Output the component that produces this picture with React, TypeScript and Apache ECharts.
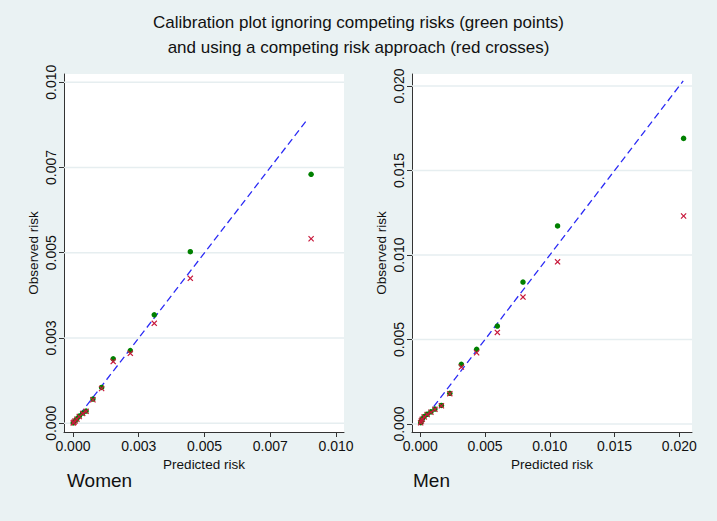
import React, { useEffect, useRef } from "react";
import * as echarts from "echarts";

// Women
const womenPred = [0.00905, 0.00446, 0.00309, 0.00218, 0.00153, 0.00109, 0.00076, 0.0005, 0.00037, 0.00024, 0.00015, 0.00008, 0.00004, 0.00001];
const womenObs = [0.0073, 0.00503, 0.00318, 0.00213, 0.00189, 0.00105, 0.00071, 0.00036, 0.0003, 0.00021, 0.00013, 0.00007, 0.00004, 0.00001];
const womenObsCR = [0.00541, 0.00425, 0.00293, 0.00205, 0.00181, 0.00102, 0.00069, 0.00035, 0.00029, 0.0002, 0.00012, 0.00007, 0.00003, 0.00001];
const womenDiag = [0, 0.0089];
const womenTicks = [0, 0.0025, 0.005, 0.0075, 0.01];
const womenTickLabels = ["0.000", "0.003", "0.005", "0.007", "0.010"];

// Men
const menPred = [0.02033, 0.0106, 0.00793, 0.00595, 0.00435, 0.00317, 0.00228, 0.00163, 0.00113, 0.00082, 0.00053, 0.0003, 0.00015, 0.00008, 0.00003];
const menObs = [0.0169, 0.01172, 0.0084, 0.0058, 0.00442, 0.00353, 0.00182, 0.0011, 0.00089, 0.00072, 0.00058, 0.00044, 0.0003, 0.0002, 0.00008];
const menObsCR = [0.01231, 0.0096, 0.00751, 0.00542, 0.00422, 0.00337, 0.0018, 0.00108, 0.00087, 0.0007, 0.00056, 0.00042, 0.00028, 0.00018, 0.00007];
const menDiag = [0, 0.0203];
const menTicks = [0, 0.005, 0.01, 0.015, 0.02];
const menTickLabels = ["0.000", "0.005", "0.010", "0.015", "0.020"];

const titleLines = [
  "Calibration plot ignoring competing risks (green points)",
  "and using a competing risk approach (red crosses)",
];
const panelNames = ["Women", "Men"];

const BG = "#EAF2F3";
const GRIDLINE = "#E6EEF0";
const GREEN = "#008000";
const RED = "#C8193C";
const BLUE = "#2B2BF5";
const FONT = "'Liberation Sans', Arial, sans-serif";
const CROSS = "path://M0,1.4L1.4,0L5,3.6L8.6,0L10,1.4L6.4,5L10,8.6L8.6,10L5,6.4L1.4,10L0,8.6L3.6,5Z";

function labelFor(ticks: number[], labels: string[]) {
  return (v: number) => {
    let best = 0;
    for (let i = 1; i < ticks.length; i++) {
      if (Math.abs(ticks[i] - v) < Math.abs(ticks[best] - v)) best = i;
    }
    return labels[best];
  };
}

function axes(ticks: number[], labels: string[], xMin: number, xMax: number, yMin: number, yMax: number, idx: number) {
  const fmt = labelFor(ticks, labels);
  const common = {
    axisLine: { show: true, onZero: false, lineStyle: { color: "#333", width: 1 } },
    axisTick: { show: true, customValues: ticks, length: 5, lineStyle: { color: "#333", width: 1 } },
    splitLine: { show: false },
    nameTextStyle: { fontFamily: FONT, fontSize: 13.5, color: "#111" },
  };
  const x = {
    ...common,
    type: "value",
    gridIndex: idx,
    min: xMin,
    max: xMax,
    name: "Predicted risk",
    nameLocation: "middle",
    nameGap: 22,
    axisLabel: { customValues: ticks, formatter: fmt, fontFamily: FONT, fontSize: 14, color: "#111", margin: 7 },
  };
  const y = {
    ...common,
    type: "value",
    gridIndex: idx,
    min: yMin,
    max: yMax,
    name: "Observed risk",
    nameLocation: "middle",
    nameGap: 24,
    nameRotate: 90,
    axisLabel: { customValues: ticks, formatter: fmt, rotate: 90, fontFamily: FONT, fontSize: 14, color: "#111", margin: 6 },
  };
  return { x, y };
}

function panelSeries(idx: number, pred: number[], obs: number[], obsCR: number[], diag: number[], ticks: number[], xMin: number, xMax: number) {
  const gridLines = ticks.map((t) => ({
    type: "line",
    xAxisIndex: idx,
    yAxisIndex: idx,
    data: [[xMin, t], [xMax, t]],
    showSymbol: false,
    symbol: "none",
    silent: true,
    lineStyle: { color: GRIDLINE, width: 1.5, type: "solid" },
    z: 1,
  }));
  return [
    ...gridLines,
    {
      type: "line",
      xAxisIndex: idx,
      yAxisIndex: idx,
      data: diag.map((d) => [d, d]),
      showSymbol: false,
      symbol: "none",
      lineStyle: { color: BLUE, width: 1.3, type: [7, 4] },
      z: 2,
    },
    {
      type: "scatter",
      xAxisIndex: idx,
      yAxisIndex: idx,
      data: pred.map((p, i) => [p, obs[i]]),
      symbol: "circle",
      symbolSize: 5.5,
      itemStyle: { color: GREEN, opacity: 1 },
      z: 3,
    },
    {
      type: "scatter",
      xAxisIndex: idx,
      yAxisIndex: idx,
      data: pred.map((p, i) => [p, obsCR[i]]),
      symbol: CROSS,
      symbolSize: 6,
      itemStyle: { color: RED, opacity: 1 },
      z: 4,
    },
  ];
}

export default function App() {
  const ref = useRef<HTMLDivElement>(null);
  useEffect(() => {
    if (!ref.current) return;
    const chart = echarts.init(ref.current, undefined, { renderer: "svg" });
    const wx = [-0.00034, 0.0103];
    const mx = [-0.00064, 0.02098];
    const w = axes(womenTicks, womenTickLabels, wx[0], wx[1], -0.000255, 0.01024, 0);
    const m = axes(menTicks, menTickLabels, mx[0], mx[1], -0.00047, 0.02071, 1);
    chart.setOption({
      animation: false,
      backgroundColor: BG,
      title: [
        {
          text: titleLines.join("\n"),
          left: 358.5,
          top: 10,
          padding: 0,
          textAlign: "center",
          textStyle: { fontFamily: FONT, fontSize: 17, fontWeight: "normal", color: "#111", lineHeight: 25 },
        },
        {
          text: panelNames[0],
          left: 67,
          top: 471,
          padding: 0,
          textStyle: { fontFamily: FONT, fontSize: 19, fontWeight: "normal", color: "#111" },
        },
        {
          text: panelNames[1],
          left: 413,
          top: 471,
          padding: 0,
          textStyle: { fontFamily: FONT, fontSize: 19, fontWeight: "normal", color: "#111" },
        },
      ],
      grid: [
        { left: 64, top: 74, width: 280, height: 358, show: true, backgroundColor: "#fff", borderWidth: 0 },
        { left: 412, top: 74, width: 280, height: 358, show: true, backgroundColor: "#fff", borderWidth: 0 },
      ],
      xAxis: [w.x, m.x],
      yAxis: [w.y, m.y],
      series: [
        ...panelSeries(0, womenPred, womenObs, womenObsCR, womenDiag, womenTicks, wx[0], wx[1]),
        ...panelSeries(1, menPred, menObs, menObsCR, menDiag, menTicks, mx[0], mx[1]),
      ],
    });
    return () => chart.dispose();
  }, []);
  return <div ref={ref} style={{ position: "fixed", left: 0, top: 0, width: 717, height: 521 }} />;
}
